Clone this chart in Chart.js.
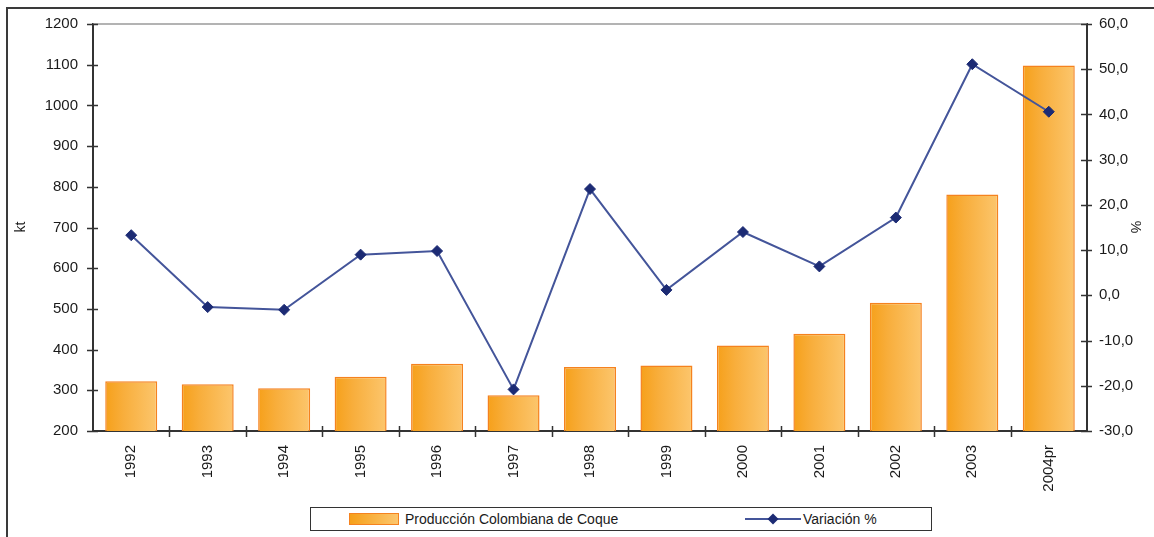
<!DOCTYPE html>
<html lang="es">
<head>
<meta charset="utf-8">
<title>Producción Colombiana de Coque</title>
<script src="https://cdn.jsdelivr.net/npm/chart.js@4.4.1/dist/chart.umd.min.js"></script>
<style>
  html, body { margin: 0; padding: 0; background: #fff; }
  #wrap { position: relative; width: 1154px; height: 537px; overflow: hidden; }
  #c { position: absolute; left: 0; top: 0; }
  #legend {
    position: absolute; left: 310px; top: 507px; width: 620px; height: 22px;
    border: 1.5px solid #333; background: #fff;
    font-family: "Liberation Sans", Arial, sans-serif; font-size: 14px; color: #1a1a1a;
  }
  .item { position: absolute; top: 0; height: 22px; line-height: 22px; white-space: nowrap; }
  .swatch {
    position: absolute; top: 5px; width: 48px; height: 10px;
    border: 1.5px solid #F5821F;
    background: linear-gradient(to right, #F6A01A, #FCC66D);
  }
  .label { position: absolute; top: 0; }
</style>
</head>
<body>
<div id="wrap">
  <canvas id="c" width="1154" height="537"></canvas>
  <div id="legend"></div>
</div>
<script>
// Years and values
const years = ['1992','1993','1994','1995','1996','1997','1998','1999','2000','2001','2002','2003','2004pr'];
const produccion = [322, 315, 305, 333, 365, 288, 357, 361, 410, 439, 515, 781, 1098];
const variacion = [13.3, -2.6, -3.2, 9.0, 9.8, -20.8, 23.5, 1.2, 14.0, 6.4, 17.2, 51.1, 40.6];

const leftTicks = { min: 200, max: 1200, step: 100 };
const rightTicks = { min: -30, max: 60, step: 10 };

const FONT = { family: '"Liberation Sans", Arial, sans-serif', size: 15 };
const TEXT = '#1a1a1a';
const AXIS = '#333';

// Plot area geometry
const PLOT = { left: 93, right: 1087, top: 22, bottom: 431 };

function barGradient(ctx) {
  const chart = ctx.chart;
  if (!chart.chartArea || ctx.dataIndex === undefined) return '#F8AE3A';
  const xs = chart.scales.x;
  const cx = xs.getPixelForValue(ctx.dataIndex);
  const half = (xs.width / years.length) * 0.68 / 2;
  const g = chart.ctx.createLinearGradient(cx - half, 0, cx + half, 0);
  g.addColorStop(0, '#F6A01A');
  g.addColorStop(0.35, '#F8AE3C');
  g.addColorStop(1, '#FCC66D');
  return g;
}

// Frame, plot top rule, crossing tick marks and axis titles
const decorations = {
  id: 'decorations',
  beforeDraw(chart) {
    const c = chart.ctx;
    c.save();
    c.strokeStyle = '#3a3a3a';
    c.lineWidth = 2;
    c.beginPath();
    c.moveTo(7, 540); c.lineTo(7, 8); c.lineTo(1160, 8);
    c.stroke();
    c.restore();
  },
  afterDraw(chart) {
    const c = chart.ctx;
    const a = chart.chartArea;
    c.save();
    // top rule of the plot
    c.strokeStyle = '#9a9a9a';
    c.lineWidth = 1.5;
    c.beginPath(); c.moveTo(a.left, a.top); c.lineTo(a.right, a.top); c.stroke();
    // tick marks crossing the axes
    c.strokeStyle = AXIS;
    c.lineWidth = 1.5;
    const y = chart.scales.y, y1 = chart.scales.y1, x = chart.scales.x;
    c.beginPath();
    y.ticks.forEach(t => { const p = Math.round(y.getPixelForValue(t.value)) + 0.5; c.moveTo(a.left - 6, p); c.lineTo(a.left + 5, p); });
    y1.ticks.forEach(t => { const p = Math.round(y1.getPixelForValue(t.value)) + 0.5; c.moveTo(a.right - 6, p); c.lineTo(a.right + 5, p); });
    const w = (a.right - a.left) / years.length;
    for (let i = 1; i < years.length; i++) {
      const p = Math.round(a.left + i * w) + 0.5;
      c.moveTo(p, a.bottom - 5); c.lineTo(p, a.bottom + 6);
    }
    c.stroke();
    // axis titles
    c.fillStyle = TEXT;
    c.font = `${FONT.size - 1}px ${FONT.family}`;
    c.textAlign = 'center'; c.textBaseline = 'middle';
    c.save(); c.translate(21, 227); c.rotate(-Math.PI / 2); c.fillText('kt', 0, 0); c.restore();
    c.save(); c.translate(1135, 227); c.rotate(Math.PI / 2); c.fillText('%', 0, 0); c.restore();
    c.restore();
  }
};

const chart = new Chart(document.getElementById('c'), {
  data: {
    labels: years,
    datasets: [
      {
        type: 'line',
        label: 'Variación %',
        data: variacion,
        yAxisID: 'y1',
        order: 0,
        borderColor: '#44559A',
        borderWidth: 2,
        pointStyle: 'rectRot',
        pointRadius: 5.5,
        pointBackgroundColor: '#1C2B74',
        pointBorderColor: '#1C2B74',
        pointBorderWidth: 1,
        tension: 0
      },
      {
        type: 'bar',
        label: 'Producción Colombiana de Coque',
        data: produccion,
        yAxisID: 'y',
        order: 1,
        backgroundColor: barGradient,
        borderColor: '#F5821F',
        borderWidth: 1.5,
        borderSkipped: 'bottom',
        categoryPercentage: 1,
        barPercentage: 0.68
      }
    ]
  },
  options: {
    responsive: false,
    animation: false,
    layout: { padding: { top: PLOT.top, left: 0, right: 0, bottom: 0 } },
    plugins: { legend: { display: false }, tooltip: { enabled: false }, title: { display: false } },
    scales: {
      x: {
        type: 'category',
        offset: true,
        grid: { offset: true, drawOnChartArea: false, drawTicks: false },
        border: { display: true, color: AXIS, width: 2 },
        ticks: { minRotation: 90, maxRotation: 90, padding: 14, font: FONT, color: TEXT, autoSkip: false },
        afterFit(s) { s.height = 537 - PLOT.bottom; }
      },
      y: {
        position: 'left',
        min: leftTicks.min, max: leftTicks.max,
        grid: { drawOnChartArea: false, drawTicks: false },
        border: { display: true, color: AXIS, width: 2 },
        ticks: { stepSize: leftTicks.step, padding: 15, font: FONT, color: TEXT, callback: v => String(v) },
        afterFit(s) { s.width = PLOT.left; }
      },
      y1: {
        position: 'right',
        min: rightTicks.min, max: rightTicks.max,
        grid: { drawOnChartArea: false, drawTicks: false },
        border: { display: true, color: AXIS, width: 2 },
        ticks: {
          stepSize: rightTicks.step, padding: 12, font: FONT, color: TEXT,
          callback: v => v.toFixed(1).replace('.', ',')
        },
        afterFit(s) { s.width = 1154 - PLOT.right; }
      }
    }
  },
  plugins: [decorations]
});

// Legend box built from the datasets
(function buildLegend() {
  const box = document.getElementById('legend');
  const bar = chart.data.datasets[1];
  const line = chart.data.datasets[0];

  const a = document.createElement('div');
  a.className = 'item'; a.style.left = '38px';
  a.innerHTML = '<div class="swatch" style="left:0"></div>';
  const al = document.createElement('span');
  al.className = 'label'; al.style.left = '56px'; al.textContent = bar.label;
  a.appendChild(al);
  box.appendChild(a);

  const b = document.createElement('div');
  b.className = 'item'; b.style.left = '434px';
  b.innerHTML = '<svg width="56" height="22" style="position:absolute;left:0;top:0">' +
    '<line x1="0" y1="11" x2="56" y2="11" stroke="' + line.borderColor + '" stroke-width="2"/>' +
    '<polygon points="28,5.5 33.5,11 28,16.5 22.5,11" fill="' + line.pointBackgroundColor + '"/></svg>';
  const bl = document.createElement('span');
  bl.className = 'label'; bl.style.left = '58px'; bl.textContent = line.label;
  b.appendChild(bl);
  box.appendChild(b);
})();
</script>
</body>
</html>
